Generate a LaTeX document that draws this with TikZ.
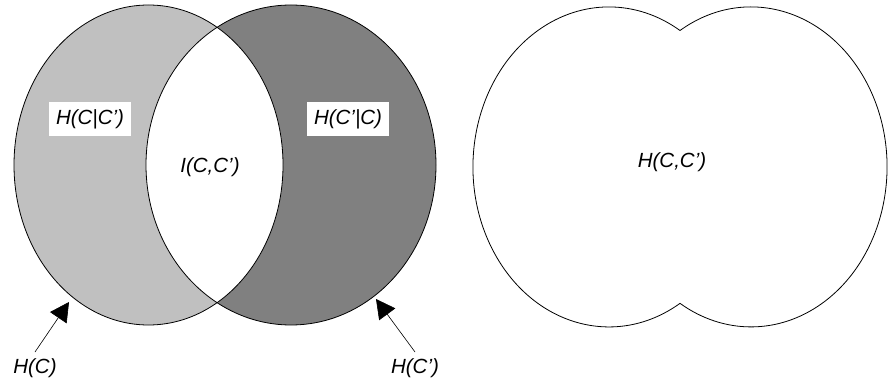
\documentclass[tikz,border=0pt]{standalone}
\usepackage{fontspec}
\setmainfont{Liberation Sans}
\usetikzlibrary{arrows.meta}
\definecolor{lightg}{HTML}{C0C0C0}
\definecolor{darkg}{HTML}{808080}
\tikzset{
  lbl/.style={font=\fontsize{20.5}{22}\selectfont\itshape, inner sep=0pt},
  boxlbl/.style={lbl, fill=white, minimum width=82, minimum height=34},
  outline/.style={draw=black, line width=0.8pt},
  pointer/.style={line width=0.6pt, -{Triangle[length=19pt,width=20pt]}}
}
\begin{document}
\begin{tikzpicture}[x=1pt,y=-1pt]
\useasboundingbox (0,0) rectangle (888,387);

% Venn diagram of H(C) and H(C')
\fill[lightg] (148.5,165) ellipse [x radius=134.5, y radius=160];
\fill[darkg] (291,165) ellipse [x radius=145, y radius=160];
\begin{scope}
  \clip (148.5,165) ellipse [x radius=134.5, y radius=160];
  \fill[white] (291,165) ellipse [x radius=145, y radius=160];
\end{scope}
\draw[outline] (148.5,165) ellipse [x radius=134.5, y radius=160];
\draw[outline] (291,165) ellipse [x radius=145, y radius=160];

\node[boxlbl] (hcc) at (90,119) {H(C|C')};
\node[boxlbl] (hcpc) at (348,119) {H(C'|C)};
\node[lbl] (icc) at (210,167) {I(C,C')};

% marginal entropies with pointers
\node[lbl, outer sep=7pt, anchor=north] (hc) at (35,352) {H(C)};
\node[lbl, outer sep=7pt, anchor=north] (hcp) at (415,352) {H(C')};
\coordinate (hctip) at (69,302);
\coordinate (hcptip) at (376,299);
\draw[pointer] (hc.north) -- (hctip);
\draw[pointer] (hcp.north) -- (hcptip);

% joint entropy: union of the two sets
\draw[outline] (680,30.5)
  arc[start angle=238.5, end angle=481.5, x radius=136, y radius=160]
  arc[start angle=58.5, end angle=301.5, x radius=136, y radius=160]
  -- cycle;
\node[lbl] (hjoint) at (672,162) {H(C,C')};
\end{tikzpicture}
\end{document}
